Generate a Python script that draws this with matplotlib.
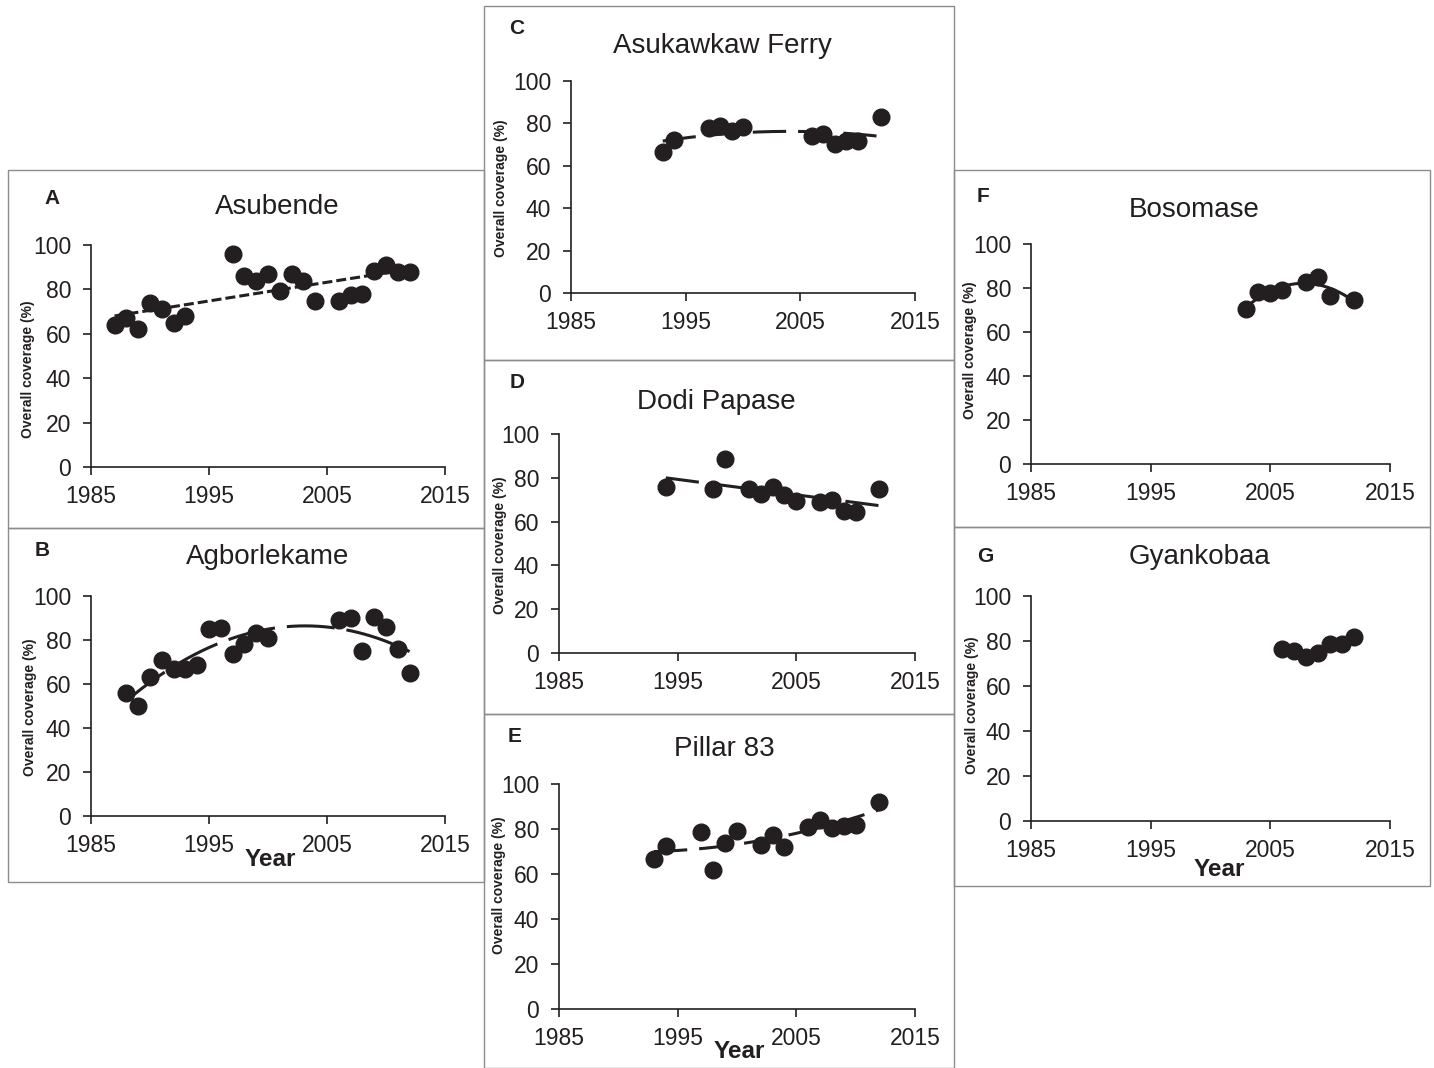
import matplotlib
matplotlib.use('Agg')
import matplotlib.pyplot as plt
import numpy as np
from matplotlib.patches import Rectangle

plt.rcParams['font.family'] = ['Liberation Sans', 'DejaVu Sans']
plt.rcParams['lines.scale_dashes'] = False

# data
asubende_years = [1987, 1988, 1989, 1990, 1991, 1992, 1993, 1997, 1998, 1999, 2000,
                  2001, 2002, 2003, 2004, 2006, 2007, 2008, 2009, 2010, 2011, 2012]
asubende_cover = [64, 67, 62, 74, 71, 65, 68, 96, 86, 84, 87,
                  79.5, 87, 84, 75, 75, 77.5, 78, 88.5, 91, 88, 88]

agbor_years = [1988, 1989, 1990, 1991, 1992, 1993, 1994, 1995, 1996, 1997, 1998,
               1999, 2000, 2006, 2007, 2008, 2009, 2010, 2011, 2012]
agbor_cover = [56, 50, 63, 71, 67, 67, 68.5, 85, 85.5, 73.5, 78,
               83, 81, 89, 90, 75, 90.5, 86, 76, 65]

asuk_years = [1993, 1994, 1997, 1998, 1999, 2000, 2006, 2007, 2008, 2009, 2010, 2012]
asuk_cover = [66.5, 72, 78, 79, 76.5, 78.5, 74, 75, 70.5, 71.5, 71.5, 83]

dodi_years = [1994, 1998, 1999, 2001, 2002, 2003, 2004, 2005, 2007, 2008, 2009, 2010, 2012]
dodi_cover = [76, 75, 88.5, 75, 72.5, 76, 72, 69.5, 69, 70, 65, 64.5, 75]

pillar_years = [1993, 1994, 1997, 1998, 1999, 2000, 2002, 2003, 2004, 2006, 2007,
                2008, 2009, 2010, 2012]
pillar_cover = [66.5, 72.5, 78.5, 62, 74, 79, 73, 77.5, 72, 81, 84,
                80.5, 81.5, 82, 92]

boso_years = [2003, 2004, 2005, 2006, 2008, 2009, 2010, 2012]
boso_cover = [70.5, 78, 77.5, 79, 82.5, 85, 76.5, 74.5]

gyan_years = [2006, 2007, 2008, 2009, 2010, 2011, 2012]
gyan_cover = [76.5, 75.5, 73, 74.5, 78.5, 78.5, 82]

x_ticks = [1985, 1995, 2005, 2015]
y_ticks = [0, 20, 40, 60, 80, 100]

W, H = 1434, 1068
INK = '#231f20'
fig = plt.figure(figsize=(W / 100, H / 100), dpi=100)


def fx(x):
    return x / W


def fy(y):
    return 1 - y / H


def panel(box, axbox, letter, lpos, title, tpos, ylab, years, cover, deg, dashes, year_pos=None):
    # gray frame round the panel
    x0, y0, x1, y1 = box
    fig.add_artist(Rectangle((fx(x0), fy(y1)), (x1 - x0) / W, (y1 - y0) / H,
                             transform=fig.transFigure, fill=False,
                             edgecolor='#8c8c8c', lw=1))
    a0, a1, b0, b100 = axbox
    ax = fig.add_axes([fx(a0), fy(b0), (a1 - a0) / W, (b0 - b100) / H])
    ax.set_xlim(1985, 2015)
    ax.set_ylim(0, 100)
    ax.set_xticks(x_ticks)
    ax.set_yticks(y_ticks)
    for s in ['top', 'right']:
        ax.spines[s].set_visible(False)
    for s in ['left', 'bottom']:
        ax.spines[s].set_linewidth(1.2)
        ax.spines[s].set_color(INK)
    ax.tick_params(labelsize=16.5, direction='out', length=5.8, width=1.2,
                   colors=INK)
    ax.tick_params(axis='x', pad=7.5)
    ax.tick_params(axis='y', pad=8.5)
    ax.patch.set_alpha(0)

    # trend line
    c = np.polyfit(years, cover, deg)
    xs = np.linspace(min(years), max(years), 300)
    if dashes is None:
        ax.plot(xs, np.polyval(c, xs), color=INK, lw=2.2, zorder=2)
    else:
        ax.plot(xs, np.polyval(c, xs), color=INK, lw=2.2, dashes=dashes, zorder=2)
    ax.plot(years, cover, 'o', color=INK, ms=12, zorder=3, clip_on=False)

    fig.text(fx(lpos[0]), fy(lpos[1]), letter, fontsize=15, fontweight='bold',
             ha='center', va='center', color=INK)
    fig.text(fx(tpos[0]), fy(tpos[1]), title, fontsize=20,
             ha='center', va='center', color=INK)
    fig.text(fx(ylab[0]), fy(ylab[1]), 'Overall coverage (%)', fontsize=10,
             fontweight='bold', rotation=90, ha='center', va='center', color=INK)
    if year_pos is not None:
        fig.text(fx(year_pos[0]), fy(year_pos[1]), 'Year', fontsize=17.5,
                 fontweight='bold', ha='center', va='center', color=INK)


short = (7.2, 2.9)
long_b = (34.5, 8.6)
mid = (24, 8.6)

panel((8, 170, 484, 528), (91, 445, 467, 245), 'A', (52, 198), 'Asubende', (277, 207),
      (28, 369), asubende_years, asubende_cover, 1, short)
panel((8, 528, 484, 882), (91, 445, 816, 596), 'B', (42, 550), 'Agborlekame', (268, 557),
      (30, 707), agbor_years, agbor_cover, 2, long_b, year_pos=(270, 860))
panel((484, 6, 954, 360), (571, 915, 293, 81), 'C', (517, 28), 'Asukawkaw Ferry', (722, 46),
      (501, 188), asuk_years, asuk_cover, 2, mid)
panel((484, 360, 954, 714), (559, 915, 653, 434), 'D', (517, 383), 'Dodi Papase', (716, 402),
      (500, 545), dodi_years, dodi_cover, 1, mid)
panel((484, 714, 954, 1068), (559, 915, 1009, 784), 'E', (515, 736), 'Pillar 83', (724, 749),
      (499, 885), pillar_years, pillar_cover, 2, mid, year_pos=(739, 1052))
panel((954, 170, 1430, 527), (1031, 1390, 464, 244), 'F', (983, 197), 'Bosomase', (1194, 210),
      (970, 350), boso_years, boso_cover, 2, None)
panel((954, 527, 1430, 886), (1031, 1390, 821, 596), 'G', (985, 556), 'Gyankobaa', (1200, 557),
      (972, 705), gyan_years, gyan_cover, 2, None, year_pos=(1219, 869))

fig.savefig('out.png', dpi=100)
